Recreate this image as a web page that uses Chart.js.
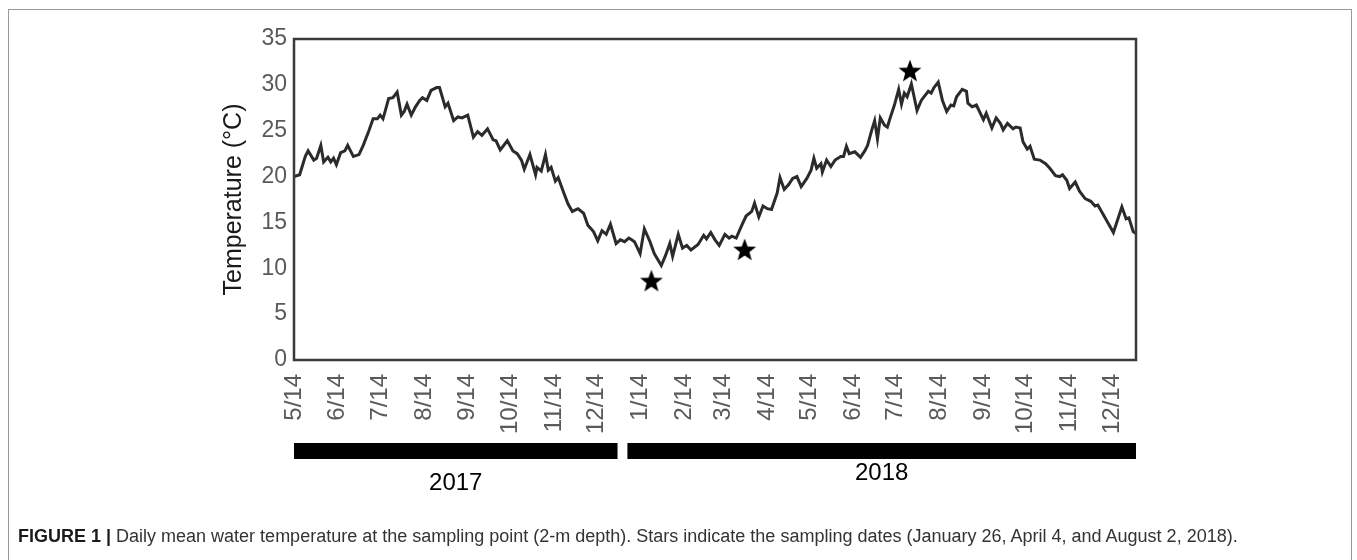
<!DOCTYPE html>
<html>
<head>
<meta charset="utf-8">
<script src="https://cdn.jsdelivr.net/npm/chart.js@4"></script>
<style>
  body { margin: 0; background: #fff; font-family: "Liberation Sans", Arial, sans-serif; }
  #wrap { position: relative; width: 1357px; height: 560px; overflow: hidden; }
  #frame { position: absolute; left: 8px; top: 9px; width: 1342px; height: 600px; border: 1px solid #9a9a9a; }
  #chart-box { position: absolute; left: 0; top: 0; width: 1357px; height: 560px; }
  #caption { position: absolute; left: 18px; top: 526px; font-size: 18px; color: #333; white-space: nowrap; }
  #caption b { color: #1a1a1a; }
</style>
</head>
<body>
<div id="wrap">
  <div id="frame"></div>
  <div id="chart-box"><canvas id="c"></canvas></div>
  <div id="caption"><b>FIGURE 1 |</b> Daily mean water temperature at the sampling point (2-m depth). Stars indicate the sampling dates (January 26, April 4, and August 2, 2018).</div>
</div>
<script>
// 日数は 2017-05-14 からの経過日
const days = [
  0, 4, 8, 10, 14, 16, 19, 21, 24, 26, 28, 30, 33, 36, 38, 40, 42, 46, 49, 53,
  56, 59, 61, 63, 67, 70, 73, 76, 78, 80, 83, 86, 89, 91, 94, 97, 101, 103, 107, 109,
  113, 116, 119, 123, 127, 130, 133, 137, 141, 143, 146, 151, 155, 158, 161, 163, 167, 171, 172, 175,
  178, 180, 182, 185, 187, 191, 194, 197, 201, 205, 208, 212, 215, 218, 221, 224, 228, 231, 234, 237,
  239, 241, 245, 248, 252, 255, 260, 263, 266, 268, 272, 275, 278, 281, 286, 290, 292, 295, 298, 301,
  305, 308, 310, 313, 317, 320, 324, 326, 329, 332, 335, 338, 342, 344, 347, 350, 353, 356, 359, 363,
  366, 368, 370, 373, 374, 377, 380, 383, 387, 389, 391, 393, 397, 401, 404, 406, 409, 411, 413, 415,
  418, 420, 422, 425, 428, 430, 432, 434, 437, 441, 444, 447, 449, 451, 453, 456, 459, 462, 465, 467,
  469, 473, 476, 477, 480, 483, 488, 490, 494, 497, 500, 502, 505, 509, 511, 514, 516, 519, 521, 524,
  528, 532, 535, 539, 542, 544, 547, 549, 553, 556, 560, 564, 567, 569, 573, 576, 580, 583, 586, 589,
  591, 594, 596
];
const temps = [
  20.0, 20.2, 22.2, 22.8, 21.8, 22.0, 23.4, 21.6, 22.1, 21.6, 22.0, 21.3, 22.6, 22.8, 23.4, 22.8, 22.2, 22.4, 23.4, 25.0,
  26.3, 26.3, 26.7, 26.3, 28.5, 28.6, 29.2, 26.7, 27.1, 27.9, 26.7, 27.6, 28.3, 28.6, 28.3, 29.4, 29.7, 29.7, 27.6, 28.0,
  26.1, 26.5, 26.4, 26.7, 24.3, 24.9, 24.5, 25.2, 24.0, 23.9, 22.9, 23.9, 22.8, 22.5, 21.8, 20.8, 22.4, 20.2, 21.0, 20.6,
  22.4, 20.7, 21.0, 19.5, 19.9, 18.2, 17.0, 16.2, 16.5, 16.0, 14.7, 14.0, 13.0, 14.1, 13.7, 14.8, 12.7, 13.1, 12.9, 13.3,
  13.1, 12.9, 11.6, 14.3, 12.9, 11.6, 10.3, 11.4, 12.7, 11.3, 13.7, 12.2, 12.5, 12.0, 12.6, 13.6, 13.2, 13.9, 13.1, 12.5,
  13.7, 13.3, 13.5, 13.3, 14.7, 15.7, 16.2, 17.1, 15.6, 16.8, 16.5, 16.4, 18.2, 19.9, 18.6, 19.1, 19.8, 20.0, 18.9, 19.8,
  20.7, 22.0, 20.9, 21.4, 20.5, 21.8, 21.1, 21.8, 22.2, 22.2, 23.3, 22.5, 22.7, 22.1, 22.8, 23.4, 25.1, 26.1, 24.1, 26.4,
  25.6, 25.4, 26.4, 27.8, 29.5, 27.9, 29.1, 28.7, 30.1, 27.2, 28.3, 28.9, 29.3, 29.1, 29.7, 30.3, 28.3, 27.1, 27.8, 27.7,
  28.7, 29.5, 29.3, 28.0, 27.6, 27.8, 26.2, 26.9, 25.3, 26.4, 25.8, 25.1, 25.8, 25.2, 25.4, 25.3, 23.8, 23.0, 23.3, 21.9,
  21.8, 21.4, 20.9, 20.1, 20.0, 20.2, 19.6, 18.7, 19.4, 18.4, 17.6, 17.3, 16.8, 16.9, 15.8, 15.0, 13.9, 15.3, 16.7, 15.4,
  15.5, 14.0, 13.8
];

// サンプリング日（星印）
const starDays = [253, 319, 436];
const starTemps = [8.7, 12.1, 31.6];

// x軸目盛り（毎月14日）
const tickDays = [0, 31, 61, 92, 123, 153, 184, 214, 245, 276, 304, 335, 365, 396, 426, 457, 488, 518, 549, 579];
const tickLabels = ['5/14', '6/14', '7/14', '8/14', '9/14', '10/14', '11/14', '12/14',
  '1/14', '2/14', '3/14', '4/14', '5/14', '6/14', '7/14', '8/14', '9/14', '10/14', '11/14', '12/14'];

// 年の帯
const yearNames = ['2017', '2018'];
const yearStart = [0, 236];
const yearEnd = [229, 596];

function makeStar(r) {
  const c = document.createElement('canvas');
  const s = r * 2 + 2;
  c.width = s; c.height = s;
  const g = c.getContext('2d');
  g.beginPath();
  for (let i = 0; i < 10; i++) {
    const rad = i % 2 === 0 ? r : r * 0.42;
    const a = -Math.PI / 2 + i * Math.PI / 5;
    const px = s / 2 + rad * Math.cos(a);
    const py = s / 2 + 1.5 + rad * Math.sin(a);
    if (i === 0) g.moveTo(px, py); else g.lineTo(px, py);
  }
  g.closePath();
  g.fillStyle = '#000';
  g.fill();
  return c;
}

const frameBox = {
  id: 'frameBox',
  afterDatasetsDraw(chart) {
    const { ctx, chartArea: a } = chart;
    ctx.save();
    ctx.strokeStyle = '#3a3a3a';
    ctx.lineWidth = 2.5;
    ctx.strokeRect(a.left, a.top, a.right - a.left, a.bottom - a.top);
    ctx.restore();
  },
};

const yearBars = {
  id: 'yearBars',
  afterDraw(chart) {
    const { ctx } = chart;
    const x = chart.scales.x;
    const labelY = [483, 473];
    ctx.save();
    yearNames.forEach((name, i) => {
      const x0 = x.getPixelForValue(yearStart[i]);
      const x1 = x.getPixelForValue(yearEnd[i]);
      ctx.fillStyle = '#000';
      ctx.fillRect(x0, 443, x1 - x0, 16);
      ctx.font = '24px "Liberation Sans", Arial, sans-serif';
      ctx.textAlign = 'center';
      ctx.textBaseline = 'middle';
      ctx.fillText(name, (x0 + x1) / 2, labelY[i]);
    });
    ctx.restore();
  },
};

new Chart(document.getElementById('c'), {
  type: 'line',
  data: {
    datasets: [
      {
        label: 'Temperature',
        data: days.map((d, i) => ({ x: d, y: temps[i] })),
        borderColor: '#2b2b2b',
        borderWidth: 3,
        pointRadius: 0,
        tension: 0,
        fill: false,
      },
      {
        label: 'Sampling',
        data: starDays.map((d, i) => ({ x: d, y: starTemps[i] })),
        showLine: false,
        pointStyle: makeStar(12),
        pointRadius: 12,
        clip: false,
      },
    ],
  },
  options: {
    responsive: true,
    maintainAspectRatio: false,
    animation: false,
    layout: { padding: { left: 200, right: 221, top: 39, bottom: 110 } },
    plugins: {
      legend: { display: false },
      tooltip: { enabled: false },
    },
    scales: {
      x: {
        type: 'linear',
        min: 0,
        max: 596,
        grid: { display: false, drawTicks: false },
        border: { display: false },
        afterFit(scale) { scale.height = 90; },
        afterBuildTicks(scale) { scale.ticks = tickDays.map(v => ({ value: v })); },
        ticks: {
          autoSkip: false,
          minRotation: 90,
          maxRotation: 90,
          padding: 14,
          color: '#5a5a5a',
          font: { size: 24, family: '"Liberation Sans", Arial, sans-serif' },
          callback(value) {
            const i = tickDays.indexOf(value);
            return i >= 0 ? tickLabels[i] : '';
          },
        },
      },
      y: {
        min: 0,
        max: 35,
        grid: { display: false, drawTicks: false },
        border: { display: false },
        afterFit(scale) { scale.width = 94; },
        ticks: {
          stepSize: 5,
          padding: 7,
          color: '#5a5a5a',
          font: { size: 23, family: '"Liberation Sans", Arial, sans-serif' },
        },
        title: {
          display: true,
          text: 'Temperature (°C)',
          color: '#1a1a1a',
          padding: { top: 19, bottom: 0 },
          font: { size: 25, family: '"Liberation Sans", Arial, sans-serif' },
        },
      },
    },
  },
  plugins: [frameBox, yearBars],
});
</script>
</body>
</html>
